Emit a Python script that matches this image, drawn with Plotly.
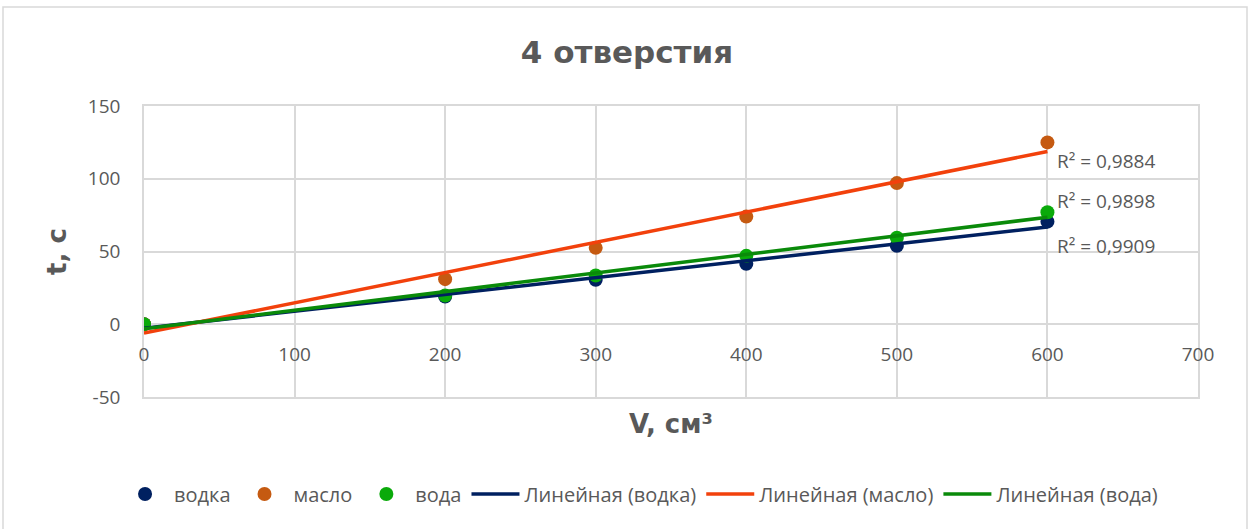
import numpy as np
import plotly.graph_objects as go

# Measured volume (cm³) and outflow time (s) through 4 holes
volume = [0, 200, 300, 400, 500, 600]
t_vodka = [0, 19.0, 30.5, 41.5, 54.0, 70.5]
t_oil = [0, 31.0, 52.5, 74.0, 97.0, 125.0]
t_water = [0, 19.8, 33.5, 47.0, 59.5, 77.0]

r2_labels = ["R² = 0,9909", "R² = 0,9884", "R² = 0,9898"]
r2_label_y = [54, 112.5, 85]

x_ticks = [0, 100, 200, 300, 400, 500, 600, 700]
y_ticks = [-50, 0, 50, 100, 150]
y_tick_text = ["-50", "0", "50", "100", "150"]

series = [
    ("водка", t_vodka, "#002060", "#002060"),
    ("масло", t_oil, "#C55A11", "#F2410C"),
    ("вода", t_water, "#0AAA0A", "#0A8A0A"),
]

FONT = "Open Sans"
BOLD = "DejaVu Sans"
GREY = "#595959"
GRID = "#D9D9D9"

W, H = 1254, 529
L, R, T, B = 144, 56, 106, 132

fig = go.Figure()

for name, ys, mcol, _ in series:
    fig.add_trace(go.Scatter(
        x=volume, y=ys, mode="markers", name=name,
        marker=dict(size=14, color=mcol),
    ))

for name, ys, _, lcol in series:
    slope, icpt = np.polyfit(volume, ys, 1)
    xs = [min(volume), max(volume)]
    fig.add_trace(go.Scatter(
        x=xs, y=[slope * v + icpt for v in xs], mode="lines",
        name=f"Линейная ({name})",
        line=dict(color=lcol, width=3.5),
    ))

# empty trace that carries the tick labels drawn along the y=0 line
fig.add_trace(go.Scatter(x=[], y=[], xaxis="x2", showlegend=False,
                         hoverinfo="skip"))

for text, yv in zip(r2_labels, r2_label_y):
    fig.add_annotation(
        x=max(volume), y=yv, text=text, showarrow=False,
        xanchor="left", yanchor="middle", xshift=8,
        font=dict(family=FONT, size=19, color=GREY),
    )

zero_frac = (0 - y_ticks[0]) / (y_ticks[-1] - y_ticks[0])

fig.update_layout(
    width=W, height=H,
    margin=dict(l=L, r=R, t=T, b=B, autoexpand=False),
    paper_bgcolor="white", plot_bgcolor="white",
    title=dict(text="<b>4 отверстия</b>", x=0.5, xref="container",
               xanchor="center", y=1 - 52 / H, yanchor="middle",
               font=dict(family=BOLD, size=31, color=GREY)),
    font=dict(family=FONT, size=19, color=GREY),
    showlegend=True,
    legend=dict(orientation="h", xref="container", yref="container",
                x=0.51, xanchor="center", y=1 - 494 / H, yanchor="middle",
                font=dict(family=FONT, size=20, color=GREY),
                itemwidth=48, tracegroupgap=0),
    xaxis=dict(
        range=[x_ticks[0], x_ticks[-1]], tickvals=x_ticks,
        showticklabels=False, automargin=False,
        showgrid=True, gridcolor=GRID, gridwidth=1.5,
        zeroline=False, showline=True, mirror=True,
        linecolor=GRID, linewidth=1.5, ticks="",
        title=dict(text="<b>V, см³</b>",
                   font=dict(family=BOLD, size=26, color=GREY), standoff=17),
    ),
    xaxis2=dict(
        range=[x_ticks[0], x_ticks[-1]], tickvals=x_ticks,
        overlaying="x", anchor="free", position=zero_frac,
        showgrid=False, zeroline=False, showline=False, ticks="",
        automargin=False, ticklabelstandoff=17,
        tickfont=dict(family=FONT, size=19, color=GREY),
    ),
    yaxis=dict(
        range=[y_ticks[0], y_ticks[-1]], tickvals=y_ticks, ticktext=y_tick_text,
        showgrid=True, gridcolor=GRID, gridwidth=1.5,
        zeroline=True, zerolinecolor=GRID, zerolinewidth=1.5,
        showline=True, mirror=True, linecolor=GRID, linewidth=1.5,
        ticks="", automargin=False, ticklabelstandoff=18,
        tickfont=dict(family=FONT, size=19, color=GREY),
        title=dict(text="<b>t, c</b>",
                   font=dict(family=BOLD, size=26, color=GREY), standoff=14),
    ),
)

# outer chart frame
pw, ph = W - L - R, H - T - B
fig.add_shape(type="rect", xref="paper", yref="paper",
              x0=(3 - L) / pw, x1=(1247 - L) / pw,
              y0=(H - T - 600) / ph, y1=(H - B - 7) / ph,
              line=dict(color=GRID, width=1.5), layer="below")

fig.write_html("out.html")
